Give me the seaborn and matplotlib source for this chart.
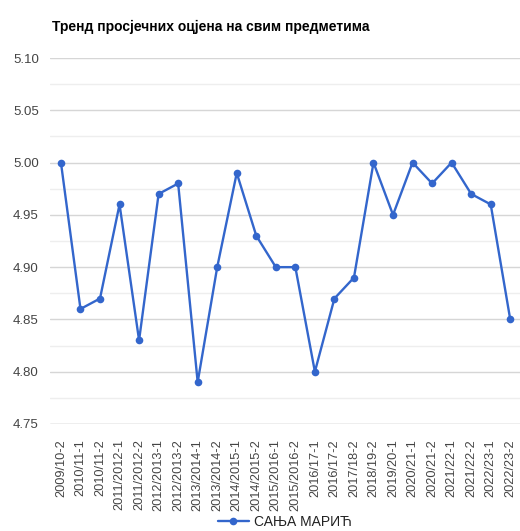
import matplotlib
matplotlib.use('Agg')
import pandas as pd
import matplotlib.pyplot as plt
import seaborn as sns
import numpy as np
from matplotlib.ticker import MultipleLocator

terms = ['2009/10-2', '2010/11-1', '2010/11-2', '2011/2012-1', '2011/2012-2',
         '2012/2013-1', '2012/2013-2', '2013/2014-1', '2013/2014-2', '2014/2015-1',
         '2014/2015-2', '2015/2016-1', '2015/2016-2', '2016/17-1', '2016/17-2',
         '2017/18-2', '2018/19-2', '2019/20-1', '2020/21-1', '2020/21-2',
         '2021/22-1', '2021/22-2', '2022/23-1', '2022/23-2']
grades = [5.00, 4.86, 4.87, 4.96, 4.83, 4.97, 4.98, 4.79, 4.90, 4.99,
          4.93, 4.90, 4.90, 4.80, 4.87, 4.89, 5.00, 4.95, 5.00, 4.98,
          5.00, 4.97, 4.96, 4.85]
student = 'САЊА МАРИЋ'
title = 'Тренд просјечних оцјена на свим предметима'

df = pd.DataFrame({'idx': np.arange(len(terms)), 'term': terms, 'grade': grades})

sns.set_style('white')
plt.rcParams['font.family'] = ['Liberation Sans', 'DejaVu Sans']

fig = plt.figure(figsize=(5.2, 5.31), dpi=100)
ax = fig.add_axes([50/520, 1-424/531, 470/520, (424-58)/531])

sns.lineplot(data=df, x='idx', y='grade', ax=ax, color='#3366cc', linewidth=1.7,
             marker='o', markersize=5.5, markeredgewidth=0, label=student, sort=False)

ax.set_ylim(4.75, 5.10)
ax.set_xlim(-0.56, 23.5)
ax.yaxis.set_minor_locator(MultipleLocator(0.025))
yt = np.arange(4.75, 5.101, 0.05)
ax.set_yticks(yt)
ax.set_yticklabels(['%.2f' % v for v in yt])
ax.set_xticks(df['idx'])
ax.set_xticklabels(terms, rotation=90)
ax.tick_params(axis='both', which='both', length=0, labelsize=9.5, labelcolor='#444444')
ax.tick_params(axis='x', labelsize=9.2)
ax.tick_params(axis='y', pad=8)
ax.tick_params(axis='x', pad=11)
ax.grid(True, which='major', axis='y', color='#d6d6d6', linewidth=1)
ax.grid(True, which='minor', axis='y', color='#eeeeee', linewidth=1)
ax.set_axisbelow(True)
for s in ax.spines.values():
    s.set_visible(False)
ax.axhline(4.75, color='#cccccc', linewidth=1, zorder=0)
ax.set_xlabel('')
ax.set_ylabel('')

ax.legend(loc='center', bbox_to_anchor=(0.5, -0.268), frameon=False,
          fontsize=10, handlelength=2.2, handletextpad=0.4, labelcolor='#222222',
          borderpad=0, borderaxespad=0)

fig.text(52/520, 1-27/531, title, fontsize=10, fontweight='bold', color='#000000',
         va='center', ha='left')

fig.savefig('out.png', dpi=100)
